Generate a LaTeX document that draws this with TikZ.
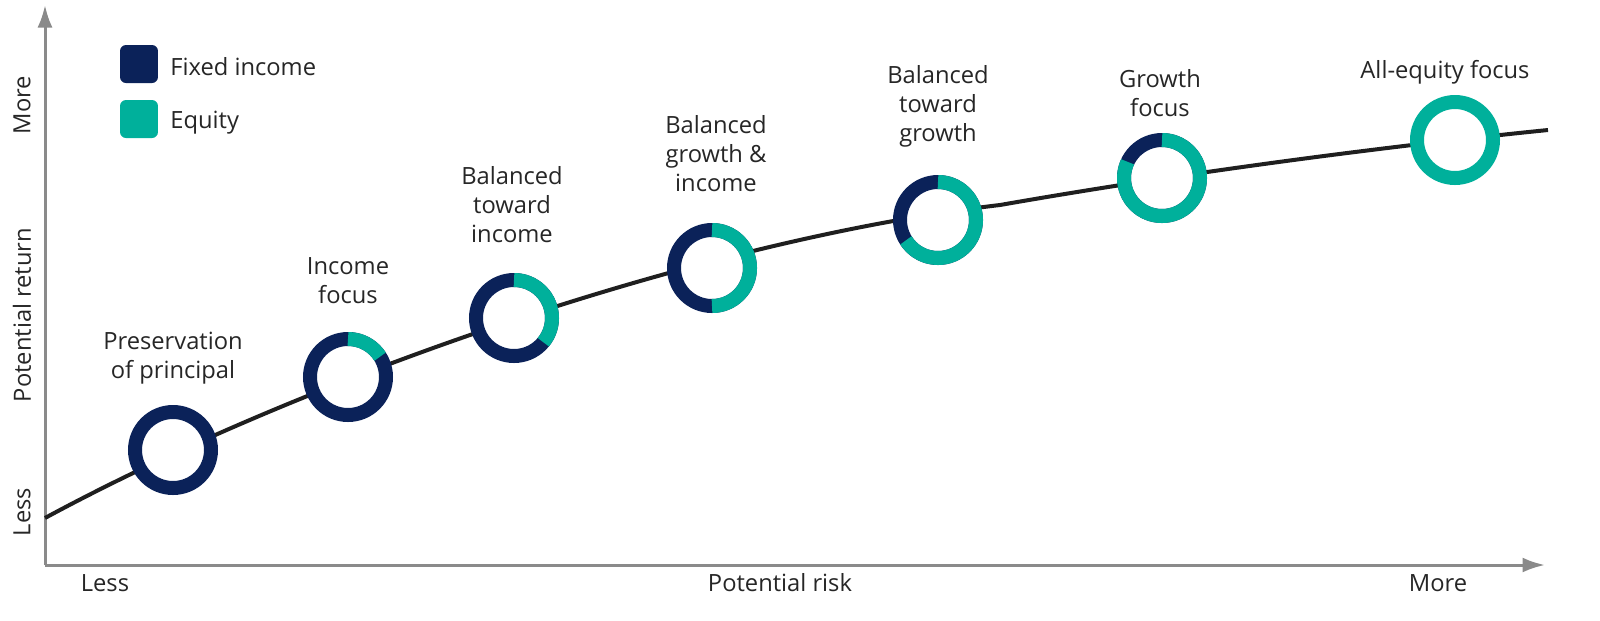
\documentclass[tikz,border=0pt]{standalone}
\usetikzlibrary{arrows.meta}
\usepackage{fontspec}
\setmainfont{Open Sans}
\definecolor{navy}{HTML}{0B2259}
\definecolor{teal}{HTML}{00B09B}
\definecolor{axisgray}{HTML}{8A8A8A}
\begin{document}
\begin{tikzpicture}[x=0.02cm,y=-0.02cm,
  lbl/.style={font=\fontsize{13.5}{16.5}\selectfont,text=black!85,align=center,inner sep=0},
  axlbl/.style={font=\fontsize{13.5}{16}\selectfont,text=black!85,inner sep=0}]
\useasboundingbox (0,0) rectangle (1600,620);
% axes
\draw[axisgray,line width=0.06cm,-{Latex[length=0.45cm,width=0.3cm]}] (45,565) -- (45,5);
\draw[axisgray,line width=0.06cm,-{Latex[length=0.45cm,width=0.3cm]}] (45,565) -- (1545,565);
% curve
\coordinate (c0) at (45,518);
\coordinate (c8) at (1548,130);
\draw[black!88,line width=0.08cm] (c0) .. controls (300,380) and (700,240) .. (1000,205) .. controls (1200,170) and (1400,145) .. (c8);
% rings
\newcommand{\ring}[4]{%
  \node[circle,fill=white,minimum size=1.52cm,inner sep=0] (#1) at (#2,#3) {};
  \draw[navy,line width=0.28cm] (#1) circle (38);
  \ifdim #4pt>0pt \draw[teal,line width=0.28cm] ([shift={(270:38)}]#1.center) arc[start angle=270,end angle={270+360*#4},radius=38];\fi
}
\ring{r1}{173}{450}{0}
\ring{r2}{348}{377}{0.16}
\ring{r3}{514}{318}{0.36}
\ring{r4}{712}{268}{0.5}
\ring{r5}{938}{220}{0.66}
\ring{r6}{1162}{178}{0.82}
\node[circle,fill=white,minimum size=1.52cm,inner sep=0] (r7) at (1455,140) {};
\draw[teal,line width=0.28cm] (r7) circle (38);
% labels
\node[lbl] (l1) at (173,358) {Preservation\\of principal};
\node[lbl] (l2) at (348,281) {Income\\focus};
\node[lbl] (l3) at (512,205) {Balanced\\toward\\income};
\node[lbl] (l4) at (716,154) {Balanced\\growth \&\\income};
\node[lbl] (l5) at (938,106) {Balanced\\toward\\growth};
\node[lbl] (l6) at (1160,93) {Growth\\focus};
\node[lbl] (l7) at (1445,72) {All-equity focus};
% legend
\node[fill=navy,rounded corners=0.12cm,minimum size=0.76cm,inner sep=0] (k1) at (139,64) {};
\node[fill=teal,rounded corners=0.12cm,minimum size=0.76cm,inner sep=0] (k2) at (139,119) {};
\node[axlbl,anchor=west] (t1) at (170,67) {Fixed income};
\node[axlbl,anchor=west] (t2) at (170,123) {Equity};
% axis labels
\node[axlbl,rotate=90] (ym) at (22,105) {More};
\node[axlbl,rotate=90] (yr) at (22,315) {Potential return};
\node[axlbl,rotate=90] (yl) at (22,512) {Less};
\node[axlbl] (xl) at (105,583) {Less};
\node[axlbl] (xr) at (780,583) {Potential risk};
\node[axlbl] (xm) at (1438,583) {More};
\end{tikzpicture}
\end{document}
